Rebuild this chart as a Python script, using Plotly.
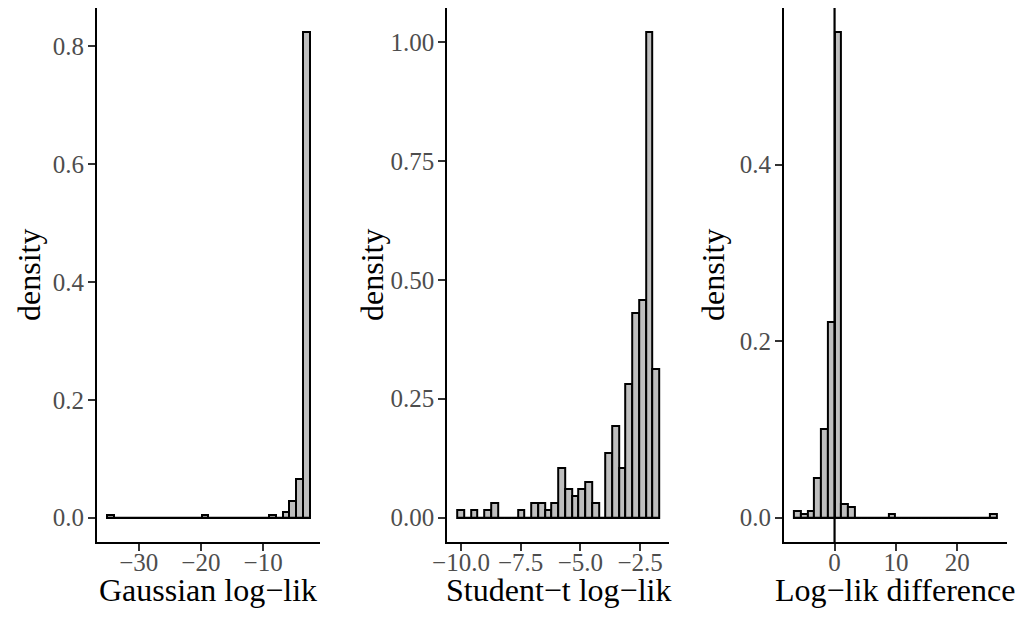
import plotly.graph_objects as go

# Histogram bin layout: left edge and bin width for each panel (30 bins each)
gauss_start, gauss_width = -35.08, 1.0857
student_start, student_width = -10.155, 0.282
diff_start, diff_width = -6.6, 1.1

# Densities per bin
gauss_density = [0.004, 0, 0, 0, 0, 0, 0, 0, 0, 0,
                 0, 0, 0, 0, 0.004, 0, 0, 0, 0, 0,
                 0, 0, 0, 0, 0.004, 0, 0.009, 0.028, 0.065, 0.824]
student_density = [0.016, 0, 0.016, 0, 0.016, 0.031, 0, 0, 0, 0.016,
                   0, 0.031, 0.031, 0.016, 0.031, 0.104, 0.060, 0.045, 0.060, 0.076,
                   0.031, 0, 0.135, 0.193, 0.104, 0.282, 0.430, 0.457, 1.020, 0.312]
diff_density = [0.008, 0.004, 0.008, 0.045, 0.100, 0.222, 0.550, 0.016, 0.012, 0,
                0, 0, 0, 0, 0.004, 0, 0, 0, 0, 0,
                0, 0, 0, 0, 0, 0, 0, 0, 0, 0.004]

x_titles = ["Gaussian log\u2212lik", "Student\u2212t log\u2212lik", "Log\u2212lik difference"]
x_tickvals = [[-30, -20, -10], [-10.0, -7.5, -5.0, -2.5], [0, 10, 20]]
x_ticktext = [["\u221230", "\u221220", "\u221210"],
              ["\u221210.0", "\u22127.5", "\u22125.0", "\u22122.5"],
              ["0", "10", "20"]]
y_tickvals = [[0.0, 0.2, 0.4, 0.6, 0.8], [0.0, 0.25, 0.5, 0.75, 1.0], [0.0, 0.2, 0.4]]
y_ticktext = [["0.0", "0.2", "0.4", "0.6", "0.8"],
              ["0.00", "0.25", "0.50", "0.75", "1.00"],
              ["0.0", "0.2", "0.4"]]
vline_x = 0

W, H = 1019, 619
FONT = "Liberation Serif"
FILL = "#BEBEBE"

panels = [
    (gauss_start, gauss_width, gauss_density),
    (student_start, student_width, student_density),
    (diff_start, diff_width, diff_density),
]
# pixel extents of each panel's plotting area
px_left = [97, 447.2, 783.9]
px_right = [319.8, 669.4, 1006.8]
px_top, px_bottom = 8, 542
ytitle_px = [29, 372, 713]

fig = go.Figure()
layout = dict(
    width=W, height=H,
    margin=dict(l=0, r=0, t=0, b=0, autoexpand=False),
    paper_bgcolor="white", plot_bgcolor="white",
    showlegend=False,
    annotations=[], shapes=[],
)

for i, (start, width, dens) in enumerate(panels):
    n = len(dens)
    edges = [start + width * k for k in range(n + 1)]
    centers = [(edges[k] + edges[k + 1]) / 2 for k in range(n)]
    ax = "" if i == 0 else str(i + 1)
    xa, ya = "x" + ax, "y" + ax

    # outline along the baseline for empty bins
    fig.add_trace(go.Scatter(
        x=[edges[0], edges[-1]], y=[0, 0], mode="lines",
        line=dict(color="black", width=2), xaxis=xa, yaxis=ya,
        hoverinfo="skip"))
    fig.add_trace(go.Bar(
        x=centers, y=dens, width=[width] * n,
        marker=dict(color=FILL, line=dict(color="black", width=2)),
        xaxis=xa, yaxis=ya))

    lo, hi = edges[0], edges[-1]
    span = hi - lo
    ymax = max(dens)
    common = dict(
        showline=True, linecolor="black", linewidth=2,
        ticks="outside", ticklen=7, tickwidth=1.5, tickcolor="#333333",
        showgrid=False, zeroline=False, automargin=False,
        tickfont=dict(family=FONT, size=25, color="#4D4D4D"),
    )
    layout["xaxis" + ax] = dict(
        common,
        domain=[px_left[i] / W, px_right[i] / W],
        range=[lo - 0.05 * span, hi + 0.05 * span],
        anchor=ya, tickmode="array",
        tickvals=x_tickvals[i], ticktext=x_ticktext[i],
        ticklabelstandoff=-10,
    )
    layout["yaxis" + ax] = dict(
        common,
        domain=[(H - px_bottom) / H, (H - px_top) / H],
        range=[-0.05 * ymax, 1.05 * ymax],
        anchor=xa, tickmode="array",
        tickvals=y_tickvals[i], ticktext=y_ticktext[i],
        ticklabelstandoff=-1,
    )

    layout["annotations"].append(dict(
        text=x_titles[i], xref="paper", yref="paper",
        x=(px_left[i] + px_right[i]) / 2 / W, y=(H - 590) / H,
        xanchor="center", yanchor="middle", showarrow=False,
        font=dict(family=FONT, size=32, color="black")))
    layout["annotations"].append(dict(
        text="density", xref="paper", yref="paper", textangle=-90,
        x=ytitle_px[i] / W, y=(H - (px_top + px_bottom) / 2) / H,
        xanchor="center", yanchor="middle", showarrow=False,
        font=dict(family=FONT, size=32, color="black")))

# reference line at zero difference
layout["shapes"].append(dict(
    type="line", xref="x3", yref="y3 domain",
    x0=vline_x, x1=vline_x, y0=0, y1=1,
    line=dict(color="black", width=2.2)))

fig.update_layout(**layout)
fig.update_layout(bargap=0)
fig.write_html("out.html")
